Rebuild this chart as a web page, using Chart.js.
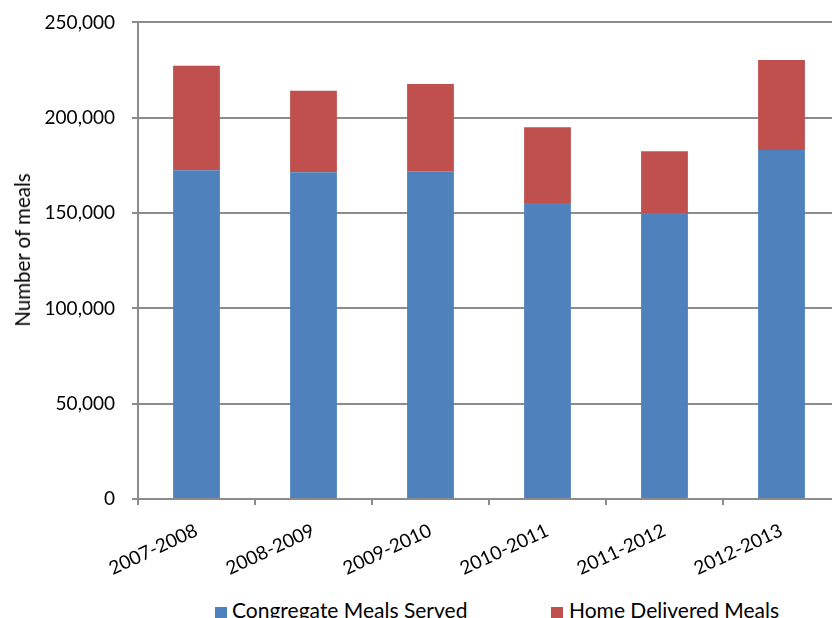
<!DOCTYPE html>
<html>
<head>
<meta charset="utf-8">
<script src="https://cdn.jsdelivr.net/npm/chart.js@4/dist/chart.umd.min.js"></script>
<style>
  html, body { margin: 0; padding: 0; background: #fff; overflow: hidden; width: 832px; height: 618px; }
  #wrap { position: relative; width: 832px; height: 618px; overflow: hidden; font-family: Lato, "Open Sans", sans-serif; color: #000; }
  #box { position: absolute; left: 0; top: -6px; width: 850px; height: 600px; }
  #ytitle { position: absolute; left: 22px; top: 250px; transform: translate(-50%, -50%) rotate(-90deg); font-size: 20.5px; white-space: nowrap; }
  .legend { position: absolute; top: 598px; font-size: 21px; white-space: nowrap; line-height: 24px; }
  .sw { position: absolute; top: 607px; width: 12px; height: 12px; }
</style>
</head>
<body>
<div id="wrap">
  <div id="box"><canvas id="mealsChart"></canvas></div>
  <div id="ytitle">Number of meals</div>
  <div class="sw" style="left:215px; background:#4F81BD"></div>
  <div class="legend" style="left:232px">Congregate Meals Served</div>
  <div class="sw" style="left:551px; background:#C0504D"></div>
  <div class="legend" style="left:569px">Home Delivered Meals</div>
</div>
<script>
// --- data ---
const years = ['2007-2008', '2008-2009', '2009-2010', '2010-2011', '2011-2012', '2012-2013'];
const congregateMeals = [172400, 171400, 171900, 155300, 149700, 183100];
const homeDeliveredMeals = [54800, 42700, 45800, 39700, 32700, 47200];
const yTicks = [0, 50000, 100000, 150000, 200000, 250000];

const gridGray = '#8c8c8c';

const ctx = document.getElementById('mealsChart').getContext('2d');
const mealsChart = new Chart(ctx, {
    type: 'bar',
    data: {
        labels: years,
        datasets: [
            { label: 'Congregate Meals Served', data: congregateMeals, backgroundColor: '#4F81BD', borderWidth: 0 },
            { label: 'Home Delivered Meals', data: homeDeliveredMeals, backgroundColor: '#C0504D', borderWidth: 0 }
        ]
    },
    options: {
        responsive: true,
        maintainAspectRatio: false,
        animation: false,
        barPercentage: 0.4,
        categoryPercentage: 1.0,
        layout: { padding: { top: 6, right: 10, left: 0, bottom: 0 } },
        plugins: { legend: { display: false }, tooltip: { enabled: false } },
        scales: {
            x: {
                stacked: true,
                offset: true,
                grid: { display: true, drawOnChartArea: false, offset: true, color: gridGray, lineWidth: 2, tickLength: 6 },
                border: { color: gridGray, width: 2 },
                ticks: {
                    color: '#000',
                    font: { family: 'Lato', size: 19 },
                    minRotation: 25,
                    maxRotation: 25,
                    padding: 14
                }
            },
            y: {
                stacked: true,
                min: 0,
                max: 250000,
                afterBuildTicks: axis => { axis.ticks = yTicks.map(v => ({ value: v })); },
                afterFit: axis => { axis.width = 138; },
                grid: { color: gridGray, lineWidth: 2, tickLength: 6 },
                border: { color: gridGray, width: 2 },
                ticks: {
                    color: '#000',
                    font: { family: 'Lato', size: 19 },
                    padding: 17,
                    callback: v => v.toLocaleString('en-US')
                }
            }
        }
    }
});
</script>
</body>
</html>
